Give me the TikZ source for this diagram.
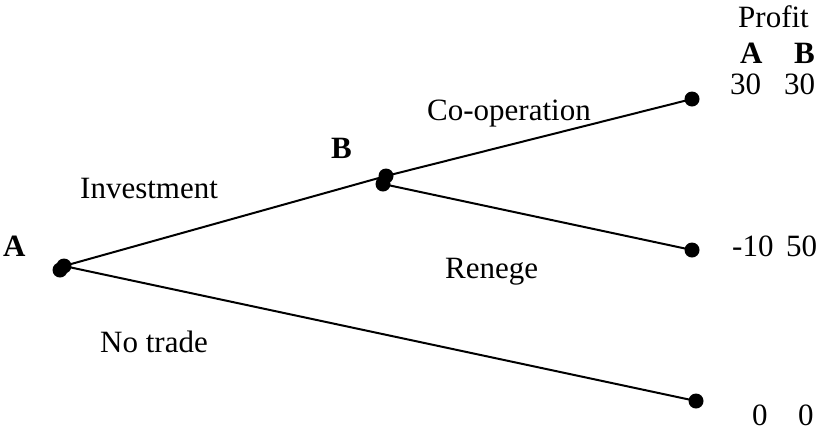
\documentclass[tikz,border=0pt]{standalone}
\usepackage{fontspec}
\setmainfont{Liberation Serif}
\begin{document}
\begin{tikzpicture}[x=1pt,y=-1pt,
  dot/.style={circle,fill=black,inner sep=0pt,minimum width=15pt,minimum height=14pt},
  lbl/.style={anchor=base west,inner sep=0pt,font=\fontsize{31}{36}\selectfont},
  edge/.style={line width=2pt}]
\useasboundingbox (0,0) rectangle (820,432);
% dots
\node[dot] (A1) at (60,270) {};
\node[dot] (A) at (64,266) {};
\node[dot] (B) at (386,176) {};
\node[dot] (B2) at (383,184) {};
\node[dot] (E1) at (692,99) {};
\node[dot] (E2) at (692,250) {};
\node[dot] (E3) at (696,401) {};
% edges
\draw[edge] (A.center) -- (B.center);
\draw[edge] (B.center) -- (E1.center);
\draw[edge] (B2.center) -- (E2.center);
\draw[edge] (A.center) -- (E3.center);
% labels
\node[lbl,font=\fontsize{31}{36}\selectfont\bfseries] (lA) at (3,256) {A};
\node[lbl,font=\fontsize{31}{36}\selectfont\bfseries] (lB) at (331,158) {B};
\node[lbl] (inv) at (80,198) {Investment};
\node[lbl] (coop) at (427,120) {Co-operation};
\node[lbl] (ren) at (445,278) {Renege};
\node[lbl] (nt) at (100,352) {No trade};
\node[lbl] (prof) at (738,27) {Profit};
\node[lbl,font=\fontsize{31}{36}\selectfont\bfseries] (hA) at (740,63) {A};
\node[lbl,font=\fontsize{31}{36}\selectfont\bfseries] (hB) at (794,63) {B};
\node[lbl] (p1a) at (730,94) {30};
\node[lbl] (p1b) at (784,94) {30};
\node[lbl] (p2a) at (732,256) {-10};
\node[lbl] (p2b) at (786,256) {50};
\node[lbl] (p3a) at (752,425) {0};
\node[lbl] (p3b) at (798,425) {0};
\end{tikzpicture}
\end{document}
